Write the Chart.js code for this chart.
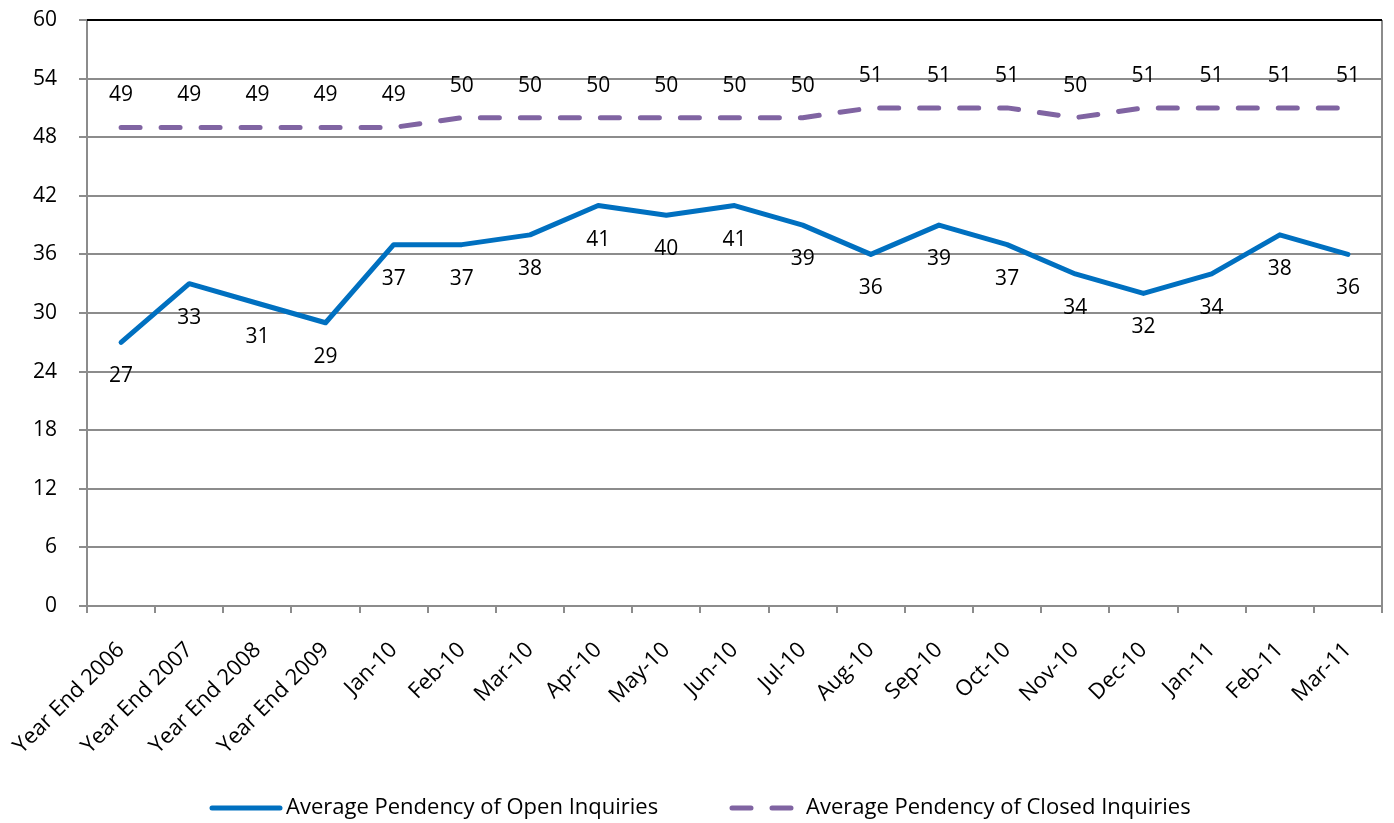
<!DOCTYPE html>
<html>
<head>
<meta charset="utf-8">
<script src="https://cdn.jsdelivr.net/npm/chart.js@4.4.0/dist/chart.umd.min.js"></script>
<style>
html,body{margin:0;padding:0;background:#fff;}
#wrap{width:1394px;height:823px;position:relative;}
</style>
</head>
<body>
<div id="wrap"><canvas id="c" width="1394" height="823"></canvas></div>
<script>
const categories = ["Year End 2006","Year End 2007","Year End 2008","Year End 2009","Jan-10","Feb-10","Mar-10","Apr-10","May-10","Jun-10","Jul-10","Aug-10","Sep-10","Oct-10","Nov-10","Dec-10","Jan-11","Feb-11","Mar-11"];
const openInquiries = [27,33,31,29,37,37,38,41,40,41,39,36,39,37,34,32,34,38,36];
const closedInquiries = [49,49,49,49,49,50,50,50,50,50,50,51,51,51,50,51,51,51,51];
const seriesNames = ["Average Pendency of Open Inquiries","Average Pendency of Closed Inquiries"];
const yTicks = [0,6,12,18,24,30,36,42,48,54,60];

const FONT = "'Open Sans', sans-serif";
const BLUE = '#0070C0';
const PURPLE = '#8064A2';
const GRID = '#8c8c8c';

const labelPlugin = {
  id: 'labels',
  afterDatasetsDraw(chart) {
    const ctx = chart.ctx;
    ctx.save();
    ctx.font = '21px ' + FONT;
    ctx.fillStyle = '#000';
    ctx.textAlign = 'center';
    ctx.textBaseline = 'middle';
    const offs = [34, -32];
    chart.data.datasets.forEach((ds, di) => {
      const meta = chart.getDatasetMeta(di);
      meta.data.forEach((pt, i) => {
        ctx.fillText(String(ds.data[i]), pt.x, pt.y + offs[di]);
      });
    });
    ctx.restore();
  },
  beforeDatasetsDraw(chart) {
    const ctx = chart.ctx, a = chart.chartArea;
    ctx.save();
    ctx.strokeStyle = GRID;
    ctx.lineWidth = 2;
    ctx.beginPath();
    ctx.moveTo(a.right, a.top);
    ctx.lineTo(a.right, a.bottom);
    ctx.stroke();
    ctx.strokeStyle = '#000';
    ctx.beginPath();
    ctx.moveTo(a.left, a.top);
    ctx.lineTo(a.right, a.top);
    ctx.stroke();
    ctx.restore();
  },
  afterDraw(chart) {
    const ctx = chart.ctx;
    ctx.save();
    const y = 808;
    const items = [
      {x0: 212, x1: 280, tx: 286, color: BLUE, dash: []},
      {x0: 732, x1: 796, tx: 806, color: PURPLE, dash: [19, 21]}
    ];
    items.forEach((it, i) => {
      ctx.strokeStyle = it.color;
      ctx.lineWidth = 5;
      ctx.lineCap = 'round';
      ctx.setLineDash(it.dash);
      ctx.beginPath();
      ctx.moveTo(it.x0, y);
      ctx.lineTo(it.x1, y);
      ctx.stroke();
      ctx.setLineDash([]);
      ctx.fillStyle = '#000';
      ctx.font = '22px ' + FONT;
      ctx.textAlign = 'left';
      ctx.textBaseline = 'middle';
      ctx.fillText(seriesNames[i], it.tx, y);
    });
    ctx.restore();
  }
};

new Chart(document.getElementById('c'), {
  type: 'line',
  data: {
    labels: categories,
    datasets: [
      {label: seriesNames[0], data: openInquiries, borderColor: BLUE, backgroundColor: BLUE, borderWidth: 5, pointRadius: 0, tension: 0, borderCapStyle: 'round', borderJoinStyle: 'round'},
      {label: seriesNames[1], data: closedInquiries, borderColor: PURPLE, backgroundColor: PURPLE, borderWidth: 5, pointRadius: 0, tension: 0, borderDash: [19, 21], borderCapStyle: 'round', borderJoinStyle: 'round'}
    ]
  },
  options: {
    responsive: false,
    animation: false,
    layout: {padding: {top: 20, right: 12, left: 0, bottom: 0}},
    plugins: {legend: {display: false}, tooltip: {enabled: false}},
    scales: {
      x: {
        type: 'category',
        offset: true,
        afterFit(s) { s.height = 217; s.paddingLeft = 0; s.paddingRight = 0; },
        grid: {offset: true, drawOnChartArea: false, drawTicks: true, tickLength: 7, color: GRID, lineWidth: 2},
        border: {display: true, color: GRID, width: 2},
        ticks: {font: {family: FONT, size: 22}, color: '#000', maxRotation: 45, minRotation: 45, autoSkip: false, padding: 24}
      },
      y: {
        min: 0, max: 60,
        afterFit(s) { s.width = 87; s.paddingTop = 0; s.paddingBottom = 0; },
        afterBuildTicks(s) { s.ticks = yTicks.map(v => ({value: v})); },
        grid: {color: GRID, lineWidth: 2, tickLength: 8, drawTicks: true},
        border: {display: true, color: GRID, width: 2},
        ticks: {font: {family: FONT, size: 21}, color: '#000', padding: 22}
      }
    }
  },
  plugins: [labelPlugin]
});
</script>
</body>
</html>
